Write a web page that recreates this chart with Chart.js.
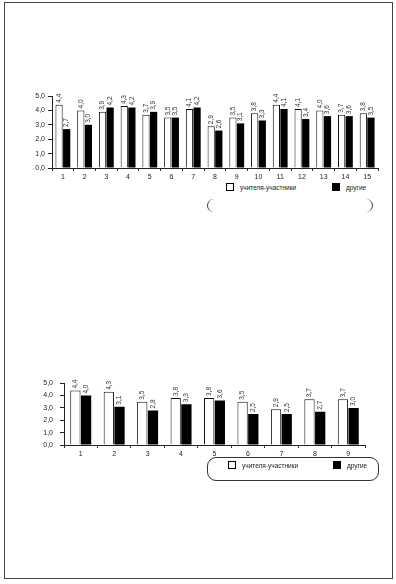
<!DOCTYPE html>
<html>
<head>
<meta charset="utf-8">
<script src="https://cdn.jsdelivr.net/npm/chart.js@4"></script>
<style>
    body { margin: 0; background: #fff; font-family: "Liberation Sans", Arial, sans-serif; }
    #page { position: relative; width: 396px; height: 584px; overflow: hidden; }
    #frame { position: absolute; left: 4px; top: 2px; width: 387px; height: 575px; border: 1px solid #444; }
    .box { position: absolute; }
    .legend { position: absolute; font-size: 6.5px; color: #222; white-space: nowrap; }
    .sw { display: inline-block; width: 6px; height: 6px; border: 1px solid #000; vertical-align: -1px; margin-right: 6px; }
    .sw.dark { background: #000; }
    .item { position: absolute; top: 0; }
    #bracket1 { position: absolute; left: 207px; top: 199px; width: 164px; height: 13px; border-left: 1px solid #333; border-right: 1px solid #333; border-radius: 7px; }
    #bracket2 { position: absolute; left: 207px; top: 457px; width: 170px; height: 22px; border: 1px solid #333; border-radius: 9px; }
</style>
</head>
<body>
<div id="page">
    <div id="frame"></div>
    <div class="box" style="left:0;top:88px;width:390px;height:94px"><canvas id="chart1"></canvas></div>
    <div class="legend" style="left:226px;top:183px">
        <span class="item" style="left:0"><span class="sw"></span>учителя-участники</span>
        <span class="item" style="left:106px"><span class="sw dark"></span>другие</span>
    </div>
    <div id="bracket1"></div>

    <div class="box" style="left:0;top:372px;width:372px;height:87px"><canvas id="chart2"></canvas></div>
    <div id="bracket2"></div>
    <div class="legend" style="left:228px;top:461px">
        <span class="item" style="left:0"><span class="sw"></span>учителя-участники</span>
        <span class="item" style="left:105px"><span class="sw dark"></span>другие</span>
    </div>
</div>
<script>
'use strict';

const CATEGORIES_1 = ['1','2','3','4','5','6','7','8','9','10','11','12','13','14','15'];
const PARTICIPANTS_1 = [4.4, 4.0, 3.9, 4.3, 3.7, 3.5, 4.1, 2.9, 3.5, 3.8, 4.4, 4.1, 4.0, 3.7, 3.8];
const OTHERS_1 = [2.7, 3.0, 4.2, 4.2, 3.9, 3.5, 4.2, 2.6, 3.1, 3.3, 4.1, 3.4, 3.6, 3.6, 3.5];

const CATEGORIES_2 = ['1','2','3','4','5','6','7','8','9'];
const PARTICIPANTS_2 = [4.4, 4.3, 3.5, 3.8, 3.8, 3.5, 2.9, 3.7, 3.7];
const OTHERS_2 = [4.0, 3.1, 2.8, 3.3, 3.6, 2.5, 2.5, 2.7, 3.0];

const Y_TICKS = [0, 1, 2, 3, 4, 5];
const LEGEND_LABELS = ['учителя-участники', 'другие'];

const FONT = { family: '"Liberation Sans", Arial, sans-serif', size: 7 };

function fmt(v) {
    return v.toFixed(1).replace('.', ',');
}

// vertical value labels above every bar
const barLabels = {
    id: 'barLabels',
    afterDatasetsDraw(chart) {
        const ctx = chart.ctx;
        ctx.save();
        ctx.fillStyle = '#333';
        ctx.font = '6.5px "Liberation Sans", Arial, sans-serif';
        ctx.textAlign = 'left';
        ctx.textBaseline = 'middle';
        chart.data.datasets.forEach((ds, i) => {
            chart.getDatasetMeta(i).data.forEach((bar, j) => {
                ctx.save();
                ctx.translate(bar.x, bar.y - 2);
                ctx.rotate(-Math.PI / 2);
                ctx.fillText(fmt(ds.data[j]), 0, 0);
                ctx.restore();
            });
        });
        ctx.restore();
    }
};

function makeChart(id, labels, a, b, opts) {
    return new Chart(document.getElementById(id), {
        type: 'bar',
        data: {
            labels: labels,
            datasets: [{
                label: LEGEND_LABELS[0],
                data: a,
                backgroundColor: '#fff',
                borderColor: '#111',
                borderWidth: 1,
                barPercentage: opts.barPct,
                categoryPercentage: opts.catPct
            }, {
                label: LEGEND_LABELS[1],
                data: b,
                backgroundColor: '#000',
                borderColor: '#000',
                borderWidth: 0,
                barPercentage: opts.barPct,
                categoryPercentage: opts.catPct
            }]
        },
        options: {
            responsive: true,
            maintainAspectRatio: false,
            animation: false,
            layout: { padding: { top: opts.padTop, right: opts.padRight, bottom: 0, left: 0 } },
            plugins: { legend: { display: false }, tooltip: { enabled: false } },
            scales: {
                x: {
                    grid: { display: true, drawOnChartArea: false, offset: true, tickLength: 3, color: '#333' },
                    border: { color: '#222', width: 1 },
                    ticks: { font: FONT, color: '#222', padding: 2, maxRotation: 0, autoSkip: false },
                    afterFit(scale) { scale.height = 14; }
                },
                y: {
                    min: 0,
                    max: 5,
                    afterBuildTicks(scale) { scale.ticks = Y_TICKS.map(v => ({ value: v })); },
                    grid: { display: true, drawOnChartArea: false, tickLength: 4, color: '#222' },
                    border: { color: '#222', width: 1 },
                    ticks: { font: FONT, color: '#222', padding: opts.tickPad, callback: v => fmt(v) },
                    afterFit(scale) { scale.width = opts.yWidth; }
                }
            }
        },
        plugins: [barLabels]
    });
}

makeChart('chart1', CATEGORIES_1, PARTICIPANTS_1, OTHERS_1,
    { barPct: 0.95, catPct: 0.7, padTop: 8, padRight: 12, yWidth: 52, tickPad: 3 });
makeChart('chart2', CATEGORIES_2, PARTICIPANTS_2, OTHERS_2,
    { barPct: 0.96, catPct: 0.64, padTop: 9, padRight: 7, yWidth: 64, tickPad: 7 });
</script>
</body>
</html>
